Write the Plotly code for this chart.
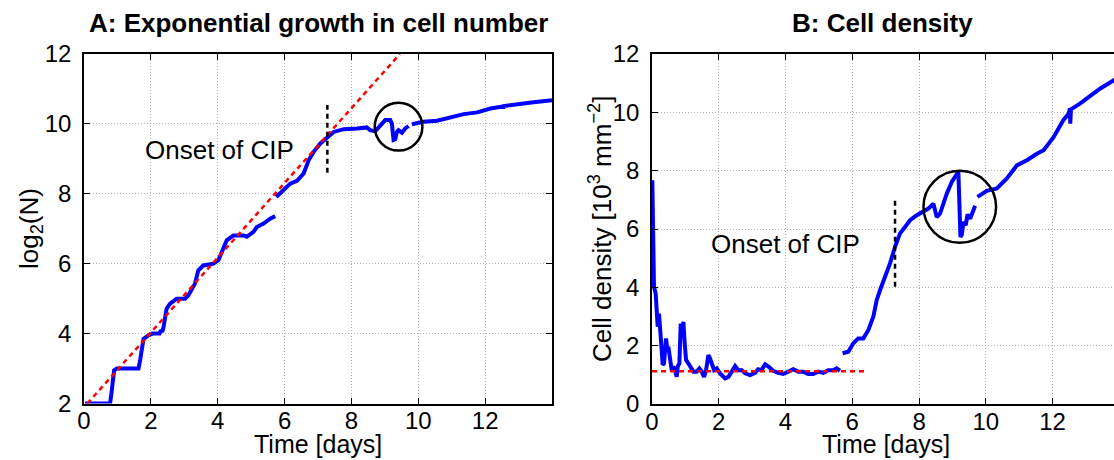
import plotly.graph_objects as go

# ---- Panel A: log2 of cell number over time ----
a_t1 = [0.03, 0.78, 0.82, 0.87, 0.90, 0.98, 1.63, 1.68, 1.73, 1.78, 1.93, 2.05, 2.20, 2.26, 2.30,
        2.34, 2.38, 2.47, 2.57, 2.77, 3.02, 3.12, 3.32, 3.42, 3.57, 3.87, 4.02, 4.12, 4.27, 4.47,
        4.77, 4.87, 5.07, 5.17, 5.37, 5.57, 5.72]
a_y1 = [2.00, 2.00, 2.28, 2.85, 2.95, 3.00, 3.00, 3.25, 3.52, 3.85, 3.95, 4.00, 4.00, 4.00, 4.10,
        4.05, 4.19, 4.71, 4.85, 5.00, 5.00, 5.09, 5.43, 5.81, 5.95, 6.00, 6.10, 6.34, 6.67, 6.81,
        6.81, 6.77, 6.91, 7.05, 7.15, 7.29, 7.36]

a_t2 = [5.75, 5.97, 6.17, 6.37, 6.57, 6.72, 6.87, 7.07, 7.29, 7.47, 7.77, 7.96, 8.17, 8.46, 8.56,
        8.71, 8.86, 9.01, 9.16, 9.21, 9.26, 9.31, 9.36, 9.41, 9.51, 9.61, 9.71]
a_y2 = [7.91, 8.10, 8.29, 8.37, 8.58, 8.96, 9.20, 9.44, 9.63, 9.77, 9.85, 9.85, 9.87, 9.90, 9.82,
        9.79, 9.97, 10.11, 10.11, 10.01, 9.54, 9.56, 9.77, 9.82, 9.75, 9.87, 9.94]

a_t3 = [9.81, 10.16, 10.56, 10.96, 11.36, 11.76, 12.16, 12.52, 12.54, 12.56, 12.96, 13.45, 14.00]
a_y3 = [9.99, 10.06, 10.09, 10.20, 10.28, 10.33, 10.44, 10.50, 10.44, 10.51, 10.57, 10.62, 10.68]

# exponential fit (straight line in log2 space)
fit_t = [0.10, 9.45]
fit_y = [2.0, 12.0]

# ---- Panel B: cell density (10^3 per mm^2) ----
b_t1 = [0.01, 0.03, 0.06, 0.11, 0.14, 0.17, 0.21, 0.26, 0.29, 0.32, 0.36, 0.42, 0.46, 0.49, 0.54,
        0.59, 0.64, 0.69, 0.74, 0.77, 0.82, 0.86, 0.90, 0.94, 0.98, 1.02, 1.09, 1.16, 1.24, 1.34,
        1.42, 1.49, 1.56, 1.62, 1.69, 1.74, 1.79, 1.86, 1.94, 2.04, 2.19, 2.29, 2.39, 2.49, 2.59,
        2.69, 2.79, 2.94, 3.09, 3.18, 3.28, 3.39, 3.49, 3.63, 3.78, 3.93, 4.08, 4.23, 4.38, 4.53,
        4.68, 4.83, 4.98, 5.13, 5.28, 5.43, 5.53, 5.63]
b_y1 = [7.67, 5.27, 4.02, 3.79, 2.99, 2.65, 3.10, 2.53, 1.85, 1.34, 1.39, 2.25, 1.85, 1.96, 1.51,
        1.16, 1.28, 1.16, 0.93, 1.28, 1.39, 2.76, 2.30, 2.82, 2.08, 1.51, 1.39, 1.28, 1.11, 1.11,
        1.22, 1.11, 0.93, 1.16, 1.68, 1.56, 1.34, 1.16, 1.22, 1.05, 0.88, 0.93, 1.11, 1.30, 1.16,
        1.16, 1.05, 0.99, 1.07, 1.19, 1.16, 1.36, 1.28, 1.14, 1.07, 1.03, 1.11, 1.19, 1.11, 1.11,
        1.03, 1.03, 1.11, 1.07, 1.16, 1.16, 1.22, 1.14]

b_t2 = [5.71, 5.88, 6.03, 6.18, 6.33, 6.48, 6.63, 6.73, 6.83, 6.98, 7.13, 7.28, 7.43, 7.58, 7.73,
        7.93, 8.13, 8.28, 8.43, 8.53, 8.63, 8.73, 8.83, 8.98, 9.13, 9.18, 9.21, 9.24, 9.28, 9.33,
        9.40, 9.45, 9.53, 9.60, 9.68]
b_y2 = [1.74, 1.79, 2.08, 2.25, 2.25, 2.53, 2.99, 3.56, 3.90, 4.36, 4.82, 5.39, 5.85, 6.07, 6.30,
        6.47, 6.59, 6.70, 6.87, 6.41, 6.53, 6.87, 7.21, 7.61, 7.88, 7.90, 6.50, 5.73, 5.80, 6.24,
        6.13, 6.50, 6.35, 6.60, 6.80]

b_t3 = [9.75, 10.03, 10.33, 10.63, 10.93, 11.23, 11.53, 11.73, 12.03, 12.32, 12.48, 12.52, 12.53,
        12.55, 12.82, 13.12, 13.22, 13.42, 13.84, 14.00]
b_y3 = [7.10, 7.31, 7.39, 7.73, 8.18, 8.36, 8.58, 8.70, 9.15, 9.73, 9.95, 10.13, 9.61, 10.10,
        10.30, 10.58, 10.64, 10.81, 11.12, 11.22]

# baseline density before confluence
base_t = [0.0, 6.41]
base_y = [1.12, 1.12]

# onset of contact inhibition of proliferation (CIP)
cip_t = 7.28
cip_a_span = [8.6, 10.54]
cip_b_span = [4.02, 6.99]

x_ticks = [0, 2, 4, 6, 8, 10, 12]
a_y_ticks = [2, 4, 6, 8, 10, 12]
b_y_ticks = [0, 2, 4, 6, 8, 10, 12]

W, H = 1114, 460
FONT = "Liberation Sans, Arial, Helvetica, sans-serif"
BLUE = "#0000ff"
RED = "#ff0000"


def px_x(p):
    return p / W


def px_y(p):
    return 1 - p / H


fig = go.Figure()

blue_line = dict(color=BLUE, width=4)
red_dash = dict(color=RED, width=2.5, dash="5px,4px")
black_dash = dict(color="black", width=2.5, dash="5px,4px")

for t, y in [(a_t1, a_y1), (a_t2, a_y2), (a_t3, a_y3)]:
    fig.add_trace(go.Scatter(x=t, y=y, mode="lines", line=blue_line,
                             xaxis="x", yaxis="y", showlegend=False))
fig.add_trace(go.Scatter(x=fit_t, y=fit_y, mode="lines", line=red_dash,
                         xaxis="x", yaxis="y", showlegend=False))

for t, y in [(b_t1, b_y1), (b_t2, b_y2), (b_t3, b_y3)]:
    fig.add_trace(go.Scatter(x=t, y=y, mode="lines", line=blue_line,
                             xaxis="x2", yaxis="y2", showlegend=False))
fig.add_trace(go.Scatter(x=base_t, y=base_y, mode="lines", line=red_dash,
                         xaxis="x2", yaxis="y2", showlegend=False))

# dashed markers for the onset of CIP
fig.add_trace(go.Scatter(x=[cip_t, cip_t], y=cip_a_span, mode="lines", line=black_dash,
                         xaxis="x", yaxis="y", showlegend=False))
fig.add_trace(go.Scatter(x=[cip_t, cip_t], y=cip_b_span, mode="lines", line=black_dash,
                         xaxis="x2", yaxis="y2", showlegend=False))

axis_common = dict(
    showline=True, linecolor="black", linewidth=1.5,
    ticks="inside", ticklen=6, tickwidth=1, tickcolor="black",
    showgrid=True, gridcolor="#b4b4b4", gridwidth=1, griddash="1px,2px",
    zeroline=False, automargin=False,
    tickfont=dict(family=FONT, size=24, color="black"),
)

fig.update_layout(
    width=W, height=H, autosize=False,
    margin=dict(l=0, r=0, t=0, b=0, pad=0, autoexpand=False),
    paper_bgcolor="white", plot_bgcolor="white",
    xaxis=dict(axis_common, domain=[px_x(84), px_x(552)], range=[0, 14],
               tickvals=x_ticks, mirror="ticks", anchor="y", ticklabelstandoff=-5),
    yaxis=dict(axis_common, domain=[px_y(403.5), px_y(54)], range=[2, 12],
               tickvals=a_y_ticks, mirror="ticks", anchor="x", ticklabelstandoff=6),
    xaxis2=dict(axis_common, domain=[px_x(652), 1.0], range=[0, 13.84],
                tickvals=x_ticks, mirror="ticks", anchor="y2", ticklabelstandoff=-5),
    yaxis2=dict(axis_common, domain=[px_y(404), px_y(54)], range=[0, 12],
                tickvals=b_y_ticks, mirror=False, anchor="x2", ticklabelstandoff=6),
)

# circles highlighting the disturbance around day 9
fig.add_shape(type="circle", xref="x", yref="y",
              x0=9.41 - 0.713, x1=9.41 + 0.713, y0=9.92 - 0.682, y1=9.92 + 0.682,
              line=dict(color="black", width=2.5))
fig.add_shape(type="circle", xref="x2", yref="y2",
              x0=9.22 - 1.088, x1=9.22 + 1.088, y0=6.76 - 1.233, y1=6.76 + 1.233,
              line=dict(color="black", width=2.5))

title_font = dict(family=FONT, size=26, color="black")
label_font = dict(family=FONT, size=26, color="black")
xlabel_font = dict(family=FONT, size=25, color="black")

annotations = [
    dict(text="<b>A: Exponential growth in cell number</b>", x=px_x(318), y=px_y(23),
         xref="paper", yref="paper", showarrow=False, font=title_font,
         xanchor="center", yanchor="middle"),
    dict(text="<b>B: Cell density</b>", x=px_x(882), y=px_y(23),
         xref="paper", yref="paper", showarrow=False, font=title_font,
         xanchor="center", yanchor="middle"),
    dict(text="Time [days]", x=px_x(318), y=px_y(444),
         xref="paper", yref="paper", showarrow=False, font=xlabel_font,
         xanchor="center", yanchor="middle"),
    dict(text="Time [days]", x=px_x(886), y=px_y(444),
         xref="paper", yref="paper", showarrow=False, font=xlabel_font,
         xanchor="center", yanchor="middle"),
    dict(text="log<sub>2</sub>(N)", x=px_x(30), y=px_y(229), textangle=-90,
         xref="paper", yref="paper", showarrow=False, font=label_font,
         xanchor="center", yanchor="middle"),
    dict(text="Cell density [10<sup>3</sup> mm<sup>\u22122</sup>]", x=px_x(600), y=px_y(229),
         textangle=-90, xref="paper", yref="paper", showarrow=False, font=label_font,
         xanchor="center", yanchor="middle"),
    dict(text="Onset of CIP", x=4.04, y=9.25, xref="x", yref="y", showarrow=False,
         font=label_font, xanchor="center", yanchor="middle"),
    dict(text="Onset of CIP", x=4.01, y=5.48, xref="x2", yref="y2", showarrow=False,
         font=label_font, xanchor="center", yanchor="middle"),
]
fig.update_layout(annotations=annotations)

fig.write_html("out.html")
